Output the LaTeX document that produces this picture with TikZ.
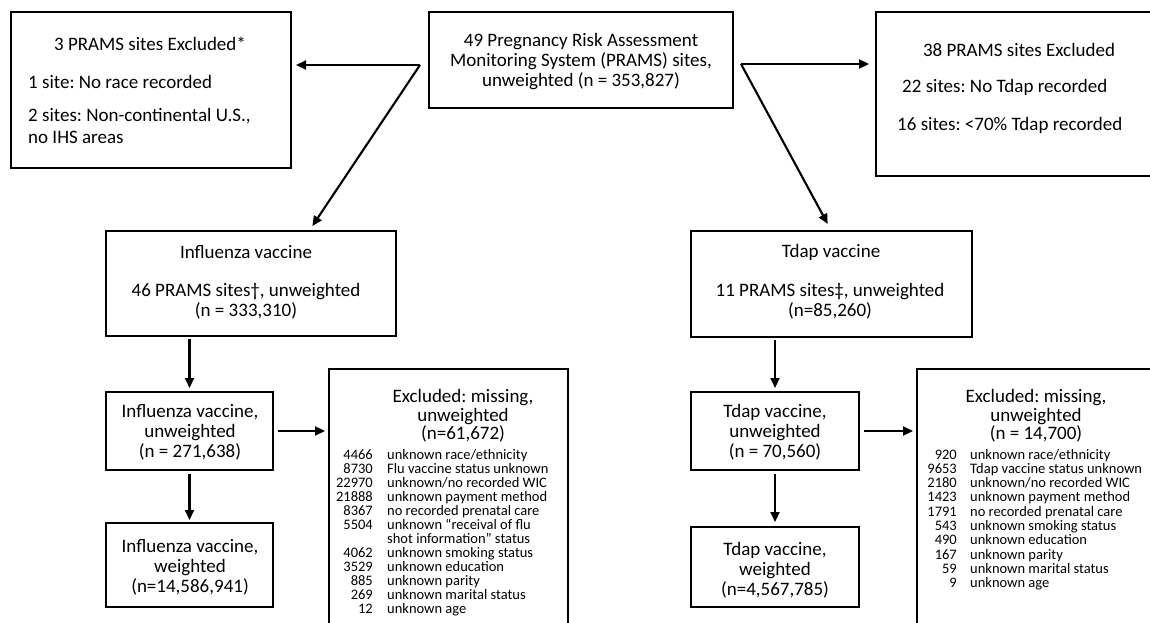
\documentclass[tikz,border=0pt]{standalone}
\usepackage{fontspec}
\setmainfont{Carlito}
\frenchspacing
\usetikzlibrary{arrows.meta,calc}
\tikzset{
  box/.style={draw, line width=2.6pt, rectangle, inner sep=0pt, outer sep=0pt, anchor=north west},
  arr/.style={line width=2.1pt, -{Triangle[length=10pt,width=9pt]}},
  big/.style={font=\fontsize{19}{20}\selectfont, align=center, inner sep=0pt},
  hdr/.style={font=\fontsize{19}{18.5}\selectfont, align=center, inner sep=0pt},
  lst/.style={font=\fontsize{14.5}{14.3}\selectfont, inner sep=0pt},
}
\newcommand\lrow[6]{%
  \node[lst,anchor=base east] (#1a) at (#2,#4) {#5};
  \node[lst,anchor=base west] (#1b) at (#3,#4) {#6};}
\newcommand\ltxt[4]{%
  \node[lst,anchor=base west] (#1b) at (#2,#3) {#4};}
\begin{document}
\begin{tikzpicture}[x=1pt,y=-1pt]
\useasboundingbox (0,0) rectangle (1150,623);
\fill[white] (0,0) rectangle (1150,623);
\clip (0,0) rectangle (1150,623);

% boxes
\node[box, minimum width=280pt, minimum height=156pt] (exL) at (11,12) {};
\node[box, minimum width=304pt, minimum height=96pt] (top) at (429,12) {};
\node[box, minimum width=300pt, minimum height=164pt] (exR) at (876,12) {};
\node[box, minimum width=290pt, minimum height=105pt] (flu) at (106,231) {};
\node[box, minimum width=281pt, minimum height=106pt] (tdap) at (691,231) {};
\node[box, minimum width=167pt, minimum height=78pt] (fluU) at (106,392) {};
\node[box, minimum width=168pt, minimum height=78pt] (tdapU) at (691,392) {};
\node[box, minimum width=167pt, minimum height=84pt] (fluW) at (106,523) {};
\node[box, minimum width=168pt, minimum height=80pt] (tdapW) at (691,527) {};
\node[box, minimum width=239pt, minimum height=290pt] (fluX) at (329,369) {};
\node[box, minimum width=260pt, minimum height=290pt] (tdapX) at (917,369) {};

% texts
\node[big] (topT) at (581,62) {49 Pregnancy Risk Assessment\\Monitoring System (PRAMS) sites,\\unweighted (n = 353,827)};
\node[big] (exLt) at (150,44) {3 PRAMS sites Excluded*};
\node[big, anchor=west] (exL1) at (28,82) {1 site: No race recorded};
\node[big, anchor=west, align=left, font=\fontsize{19}{21.5}\selectfont] (exL2) at (28,126) {2 sites: Non-continental U.S.,\\no IHS areas};
\node[big] (exRt) at (1019,50) {38 PRAMS sites Excluded};
\node[big, anchor=west] (exR1) at (902,87) {22 sites: No Tdap recorded};
\node[big, anchor=west] (exR2) at (897,125) {16 sites: <70\% Tdap recorded};

\node[big] (fluT) at (246,252) {Influenza vaccine};
\node[big] (fluS) at (246,301) {46 PRAMS sites†, unweighted\\(n = 333,310)};
\node[big] (tdapT) at (831,252) {Tdap vaccine};
\node[big] (tdapS) at (830,301) {11 PRAMS sites‡, unweighted\\(n=85,260)};

\node[big] (fluUt) at (190,432) {Influenza vaccine,\\unweighted\\(n = 271,638)};
\node[big] (tdapUt) at (775,432) {Tdap vaccine,\\unweighted\\(n = 70,560)};
\node[big] (fluWt) at (190,567) {Influenza vaccine,\\weighted\\(n=14,586,941)};
\node[big] (tdapWt) at (775,570) {Tdap vaccine,\\weighted\\(n=4,567,785)};

\node[hdr] (fluXh) at (463,416) {Excluded: missing,\\unweighted\\(n=61,672)};
\node[hdr] (tdapXh) at (1036,416) {Excluded: missing,\\unweighted\\(n = 14,700)};

% influenza exclusion list
\lrow{f1}{373}{387}{459}{4466}{unknown race/ethnicity}
\lrow{f2}{373}{387}{473}{8730}{Flu vaccine status unknown}
\lrow{f3}{373}{387}{487}{22970}{unknown/no recorded WIC}
\lrow{f4}{373}{387}{501}{21888}{unknown payment method}
\lrow{f5}{373}{387}{515}{8367}{no recorded prenatal care}
\lrow{f6}{373}{387}{529}{5504}{unknown “receival of flu}
\ltxt{f7}{387}{543}{shot information” status}
\lrow{f8}{373}{387}{557}{4062}{unknown smoking status}
\lrow{f9}{373}{387}{571}{3529}{unknown education}
\lrow{f10}{373}{387}{585}{885}{unknown parity}
\lrow{f11}{373}{387}{599}{269}{unknown marital status}
\lrow{f12}{373}{387}{613}{12}{unknown age}

% tdap exclusion list
\lrow{t1}{957}{970}{459}{920}{unknown race/ethnicity}
\lrow{t2}{957}{970}{473.3}{9653}{Tdap vaccine status unknown}
\lrow{t3}{957}{970}{487.6}{2180}{unknown/no recorded WIC}
\lrow{t4}{957}{970}{501.9}{1423}{unknown payment method}
\lrow{t5}{957}{970}{516.2}{1791}{no recorded prenatal care}
\lrow{t6}{957}{970}{530.5}{543}{unknown smoking status}
\lrow{t7}{957}{970}{544.8}{490}{unknown education}
\lrow{t8}{957}{970}{559.1}{167}{unknown parity}
\lrow{t9}{957}{970}{573.4}{59}{unknown marital status}
\lrow{t10}{957}{970}{587.7}{9}{unknown age}

% connectors
\coordinate (jl) at (420,65);
\coordinate (jr) at (741,64);
\draw[arr, shorten >=5pt] (jl) -- (jl -| exL.east);
\draw[arr, shorten >=6pt] (jl) -- ($(flu.north west)!0.7!(flu.north east)$);
\draw[arr, shorten >=7pt] (jr) -- (jr -| exR.west);
\draw[arr, shorten >=8pt] (jr) -- (tdap.north);

\draw[arr, shorten <=3pt, shorten >=4pt] (fluU.north |- flu.south) -- (fluU.north);
\draw[arr, shorten <=4pt, shorten >=3pt] (fluU.south) -- (fluW.north);
\draw[arr, shorten <=5pt, shorten >=4pt] (fluU.east) -- (fluU.east -| fluX.west);

\draw[arr, shorten <=3pt, shorten >=4pt] (tdapU.north |- tdap.south) -- (tdapU.north);
\draw[arr, shorten <=4pt, shorten >=5pt] (tdapU.south) -- (tdapW.north);
\draw[arr, shorten <=5pt, shorten >=4pt] (tdapU.east) -- (tdapU.east -| tdapX.west);
\end{tikzpicture}
\end{document}
